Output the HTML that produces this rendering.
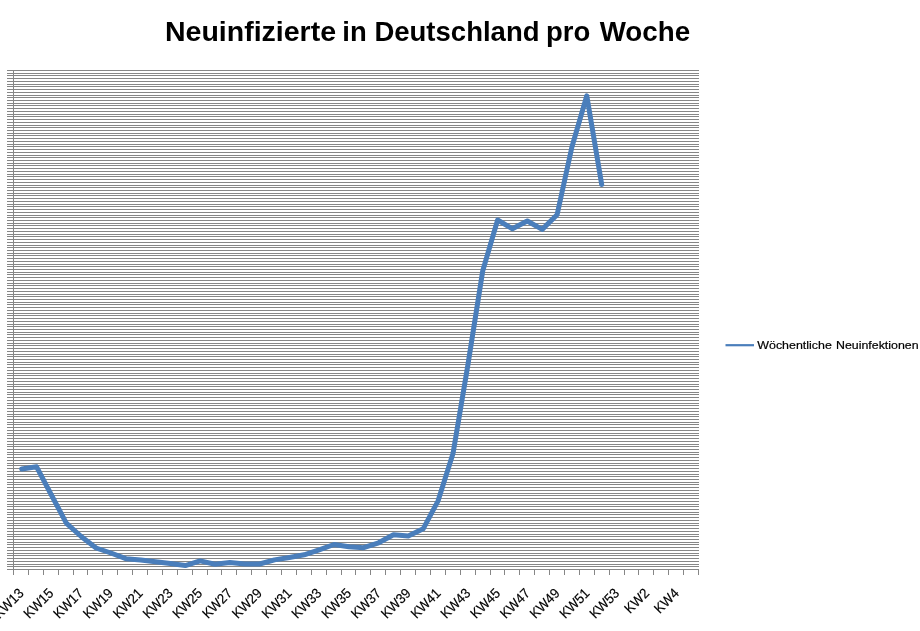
<!DOCTYPE html>
<html lang="de"><head><meta charset="utf-8"><title>Neuinfizierte in Deutschland pro Woche</title>
<style>
html,body{margin:0;padding:0;background:#fff}
body{width:920px;height:631px;overflow:hidden;font-family:"Liberation Sans",sans-serif}
svg{display:block}
</style></head><body>
<svg width="920" height="631" viewBox="0 0 920 631" font-family="Liberation Sans, sans-serif">
<rect width="920" height="631" fill="#fff"/>
<text id="title" y="40.6" font-weight="bold" font-size="26.8" fill="#000"><tspan x="165.0" textLength="171.0" lengthAdjust="spacingAndGlyphs">Neuinfizierte</tspan> <tspan x="342.3" textLength="24.4" lengthAdjust="spacingAndGlyphs">in</tspan> <tspan x="374.4" textLength="165.1" lengthAdjust="spacingAndGlyphs">Deutschland</tspan> <tspan x="546.0" textLength="44.3" lengthAdjust="spacingAndGlyphs">pro</tspan> <tspan x="599.7" textLength="90.4" lengthAdjust="spacingAndGlyphs">Woche</tspan></text>
<path d="M7 70.5H699M7 73.5H699M7 75.5H699M7 78.5H699M7 81.5H699M7 84.5H699M7 86.5H699M7 89.5H699M7 92.5H699M7 95.5H699M7 97.5H699M7 100.5H699M7 103.5H699M7 105.5H699M7 108.5H699M7 111.5H699M7 114.5H699M7 116.5H699M7 119.5H699M7 122.5H699M7 125.5H699M7 127.5H699M7 130.5H699M7 133.5H699M7 135.5H699M7 138.5H699M7 141.5H699M7 144.5H699M7 146.5H699M7 149.5H699M7 152.5H699M7 155.5H699M7 157.5H699M7 160.5H699M7 163.5H699M7 165.5H699M7 168.5H699M7 171.5H699M7 174.5H699M7 176.5H699M7 179.5H699M7 182.5H699M7 185.5H699M7 187.5H699M7 190.5H699M7 193.5H699M7 195.5H699M7 198.5H699M7 201.5H699M7 204.5H699M7 206.5H699M7 209.5H699M7 212.5H699M7 215.5H699M7 217.5H699M7 220.5H699M7 223.5H699M7 225.5H699M7 228.5H699M7 231.5H699M7 234.5H699M7 236.5H699M7 239.5H699M7 242.5H699M7 245.5H699M7 247.5H699M7 250.5H699M7 253.5H699M7 255.5H699M7 258.5H699M7 261.5H699M7 264.5H699M7 266.5H699M7 269.5H699M7 272.5H699M7 274.5H699M7 277.5H699M7 280.5H699M7 283.5H699M7 285.5H699M7 288.5H699M7 291.5H699M7 294.5H699M7 296.5H699M7 299.5H699M7 302.5H699M7 304.5H699M7 307.5H699M7 310.5H699M7 313.5H699M7 315.5H699M7 318.5H699M7 321.5H699M7 324.5H699M7 326.5H699M7 329.5H699M7 332.5H699M7 334.5H699M7 337.5H699M7 340.5H699M7 343.5H699M7 345.5H699M7 348.5H699M7 351.5H699M7 354.5H699M7 356.5H699M7 359.5H699M7 362.5H699M7 364.5H699M7 367.5H699M7 370.5H699M7 373.5H699M7 375.5H699M7 378.5H699M7 381.5H699M7 384.5H699M7 386.5H699M7 389.5H699M7 392.5H699M7 394.5H699M7 397.5H699M7 400.5H699M7 403.5H699M7 405.5H699M7 408.5H699M7 411.5H699M7 414.5H699M7 416.5H699M7 419.5H699M7 422.5H699M7 424.5H699M7 427.5H699M7 430.5H699M7 433.5H699M7 435.5H699M7 438.5H699M7 441.5H699M7 444.5H699M7 446.5H699M7 449.5H699M7 452.5H699M7 454.5H699M7 457.5H699M7 460.5H699M7 463.5H699M7 465.5H699M7 468.5H699M7 471.5H699M7 474.5H699M7 476.5H699M7 479.5H699M7 482.5H699M7 484.5H699M7 487.5H699M7 490.5H699M7 493.5H699M7 495.5H699M7 498.5H699M7 501.5H699M7 504.5H699M7 506.5H699M7 509.5H699M7 512.5H699M7 514.5H699M7 517.5H699M7 520.5H699M7 523.5H699M7 525.5H699M7 528.5H699M7 531.5H699M7 534.5H699M7 536.5H699M7 539.5H699M7 542.5H699M7 544.5H699M7 547.5H699M7 550.5H699M7 553.5H699M7 555.5H699M7 558.5H699M7 561.5H699M7 564.5H699M7 566.5H699M7 569.5H699" stroke="#868686" stroke-width="1" fill="none" shape-rendering="crispEdges"/>
<path d="M13.5 70V570M13 569.5H699M13.5 569V575M28.5 569V575M43.5 569V575M58.5 569V575M73.5 569V575M87.5 569V575M102.5 569V575M117.5 569V575M132.5 569V575M147.5 569V575M162.5 569V575M177.5 569V575M192.5 569V575M207.5 569V575M221.5 569V575M236.5 569V575M251.5 569V575M266.5 569V575M281.5 569V575M296.5 569V575M311.5 569V575M326.5 569V575M341.5 569V575M355.5 569V575M370.5 569V575M385.5 569V575M400.5 569V575M415.5 569V575M430.5 569V575M445.5 569V575M460.5 569V575M475.5 569V575M490.5 569V575M504.5 569V575M519.5 569V575M534.5 569V575M549.5 569V575M564.5 569V575M579.5 569V575M594.5 569V575M609.5 569V575M624.5 569V575M638.5 569V575M653.5 569V575M668.5 569V575M683.5 569V575M698.5 569V575" stroke="#868686" stroke-width="1" fill="none" shape-rendering="crispEdges"/>
<polyline points="21.7,468.9 36.6,466.8 51.4,495.0 66.3,523.1 81.2,536.5 96.1,548.0 110.9,553.0 125.8,558.7 140.7,559.9 155.5,561.8 170.4,563.5 185.3,565.6 200.1,560.9 215.0,564.2 229.9,562.6 244.8,563.9 259.6,564.0 274.5,559.9 289.4,557.5 304.2,554.8 319.1,549.8 334.0,544.5 348.9,546.8 363.7,547.7 378.6,542.8 393.5,534.8 408.3,535.9 423.2,528.8 438.1,500.8 453.0,453.6 467.8,365.5 482.7,271.0 497.6,220.0 512.4,228.8 527.3,221.0 542.2,229.4 557.1,214.8 571.9,147.0 586.8,95.8 601.7,184.5" fill="none" stroke="#4a7ebb" stroke-width="5" stroke-linejoin="round" stroke-linecap="round"/>
<g font-size="14" fill="#000" stroke="#000" stroke-width="0.18">
<text transform="translate(24.5 594.2) rotate(-45) scale(0.93 1)" text-anchor="end">KW13</text>
<text transform="translate(54.3 594.2) rotate(-45) scale(0.93 1)" text-anchor="end">KW15</text>
<text transform="translate(84.1 594.2) rotate(-45) scale(0.93 1)" text-anchor="end">KW17</text>
<text transform="translate(113.9 594.2) rotate(-45) scale(0.93 1)" text-anchor="end">KW19</text>
<text transform="translate(143.7 594.2) rotate(-45) scale(0.93 1)" text-anchor="end">KW21</text>
<text transform="translate(173.5 594.2) rotate(-45) scale(0.93 1)" text-anchor="end">KW23</text>
<text transform="translate(203.2 594.2) rotate(-45) scale(0.93 1)" text-anchor="end">KW25</text>
<text transform="translate(233.0 594.2) rotate(-45) scale(0.93 1)" text-anchor="end">KW27</text>
<text transform="translate(262.8 594.2) rotate(-45) scale(0.93 1)" text-anchor="end">KW29</text>
<text transform="translate(292.6 594.2) rotate(-45) scale(0.93 1)" text-anchor="end">KW31</text>
<text transform="translate(322.4 594.2) rotate(-45) scale(0.93 1)" text-anchor="end">KW33</text>
<text transform="translate(352.2 594.2) rotate(-45) scale(0.93 1)" text-anchor="end">KW35</text>
<text transform="translate(381.9 594.2) rotate(-45) scale(0.93 1)" text-anchor="end">KW37</text>
<text transform="translate(411.7 594.2) rotate(-45) scale(0.93 1)" text-anchor="end">KW39</text>
<text transform="translate(441.5 594.2) rotate(-45) scale(0.93 1)" text-anchor="end">KW41</text>
<text transform="translate(471.3 594.2) rotate(-45) scale(0.93 1)" text-anchor="end">KW43</text>
<text transform="translate(501.1 594.2) rotate(-45) scale(0.93 1)" text-anchor="end">KW45</text>
<text transform="translate(530.9 594.2) rotate(-45) scale(0.93 1)" text-anchor="end">KW47</text>
<text transform="translate(560.6 594.2) rotate(-45) scale(0.93 1)" text-anchor="end">KW49</text>
<text transform="translate(590.4 594.2) rotate(-45) scale(0.93 1)" text-anchor="end">KW51</text>
<text transform="translate(620.2 594.2) rotate(-45) scale(0.93 1)" text-anchor="end">KW53</text>
<text transform="translate(650.0 594.2) rotate(-45) scale(0.93 1)" text-anchor="end">KW2</text>
<text transform="translate(679.8 594.2) rotate(-45) scale(0.93 1)" text-anchor="end">KW4</text>
</g>
<line x1="725.5" y1="345.2" x2="754" y2="345.2" stroke="#4a7ebb" stroke-width="2.2"/>
<text id="legend" y="348.7" font-size="11.4" fill="#000" stroke="#000" stroke-width="0.2"><tspan x="757.3" textLength="74.5" lengthAdjust="spacingAndGlyphs">Wöchentliche</tspan> <tspan x="836.0" textLength="82.6" lengthAdjust="spacingAndGlyphs">Neuinfektionen</tspan></text>
</svg>
</body></html>
